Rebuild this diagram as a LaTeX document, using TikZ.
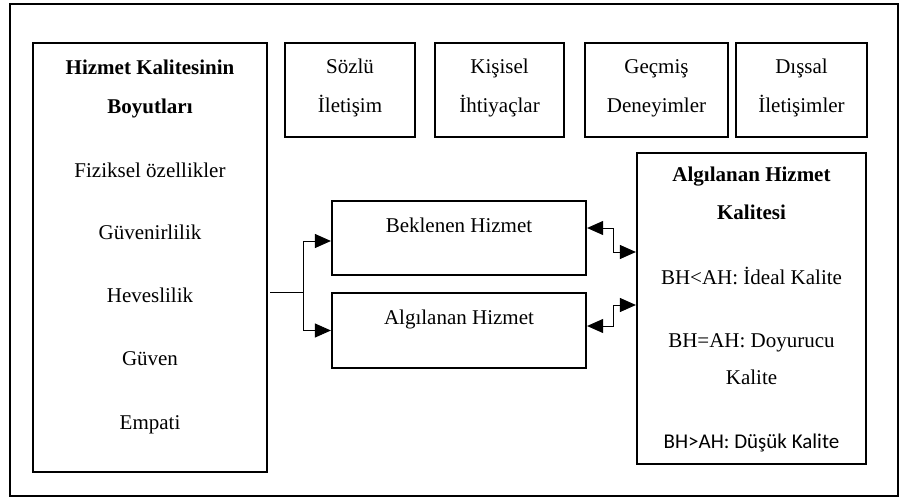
\documentclass[tikz,border=0pt]{standalone}
\usepackage{fontspec}
\setmainfont{Liberation Serif}
\newfontfamily\carlitofont{Carlito}
\usetikzlibrary{arrows.meta}
\tikzset{
  frame/.style={draw,line width=2pt,inner sep=0pt},
  box/.style={draw,line width=2.2pt,inner sep=0pt},
  txt/.style={anchor=base,inner sep=0pt,font=\fontsize{21}{25}\selectfont},
  btxt/.style={anchor=base,inner sep=0pt,font=\fontsize{21}{25}\selectfont\bfseries},
  stxt/.style={anchor=base,inner sep=0pt,font=\fontsize{21}{25}\selectfont\carlitofont},
  conn/.style={line width=1pt},
  tip/.style={-{Triangle[length=16pt,width=14pt]}},
  dbl/.style={{Triangle[length=16pt,width=14pt]}-{Triangle[length=16pt,width=14pt]}},
}
\begin{document}
\begin{tikzpicture}[x=1pt,y=-1pt]
\useasboundingbox (0,0) rectangle (901,497);
% outer frame
\node[frame,minimum width=888pt,minimum height=491.5pt] (outer) at (454,249.75) {};
% left box
\node[box,minimum width=234pt,minimum height=429pt] (dim) at (150,257.5) {};
\node[btxt] (d1) at (150,75) {Hizmet Kalitesinin};
\node[btxt] (d2) at (150,114) {Boyutları};
\node[txt] (d3) at (150,177) {Fiziksel özellikler};
\node[txt] (d4) at (150,239) {Güvenirlilik};
\node[txt] (d5) at (150,302) {Heveslilik};
\node[txt] (d6) at (150,365) {Güven};
\node[txt] (d7) at (150,429) {Empati};
% top boxes
\node[box,minimum width=130pt,minimum height=94pt] (b1) at (350,90) {};
\node[txt] (b1a) at (350,74) {Sözlü};
\node[txt] (b1b) at (350,113) {İletişim};
\node[box,minimum width=129pt,minimum height=94pt] (b2) at (499.5,90) {};
\node[txt] (b2a) at (499.5,74) {Kişisel};
\node[txt] (b2b) at (499.5,113) {İhtiyaçlar};
\node[box,minimum width=143pt,minimum height=94pt] (b3) at (656.5,90) {};
\node[txt] (b3a) at (656.5,74) {Geçmiş};
\node[txt] (b3b) at (656.5,113) {Deneyimler};
\node[box,minimum width=131pt,minimum height=94pt] (b4) at (801.5,90) {};
\node[txt] (b4a) at (801.5,74) {Dışsal};
\node[txt] (b4b) at (801.5,113) {İletişimler};
% middle boxes
\node[box,minimum width=254pt,minimum height=74pt] (bek) at (459,238) {};
\node[txt] (bekt) at (459,232) {Beklenen Hizmet};
\node[box,minimum width=254pt,minimum height=75pt] (alg) at (459,330.5) {};
\node[txt] (algt) at (459,324) {Algılanan Hizmet};
% right box
\node[box,minimum width=229pt,minimum height=311pt] (rbox) at (751.5,308.5) {};
\node[btxt] (r1) at (751.5,182) {Algılanan Hizmet};
\node[btxt] (r2) at (751.5,219) {Kalitesi};
\node[txt] (r3) at (751.5,284) {BH<AH: İdeal Kalite};
\node[txt] (r4) at (751.5,347) {BH=AH: Doyurucu};
\node[txt] (r5) at (751.5,384) {Kalite};
\node[stxt] (r6) at (751.5,448) {BH>AH: Düşük Kalite};
% connectors
\coordinate (s) at (270,292);
\coordinate (j) at (303,292);
\draw[conn] (s) -- (j);
\draw[conn,tip] (j) |- ([yshift=-3pt]bek.west);
\draw[conn,tip] (j) |- (alg.west);
\draw[conn,dbl] ([yshift=10pt]bek.east) -- ++(26,0) |- ([yshift=56.5pt]rbox.west);
\draw[conn,dbl] ([yshift=4.5pt]alg.east) -- ++(26,0) |- ([yshift=3.5pt]rbox.west);
\end{tikzpicture}
\end{document}
